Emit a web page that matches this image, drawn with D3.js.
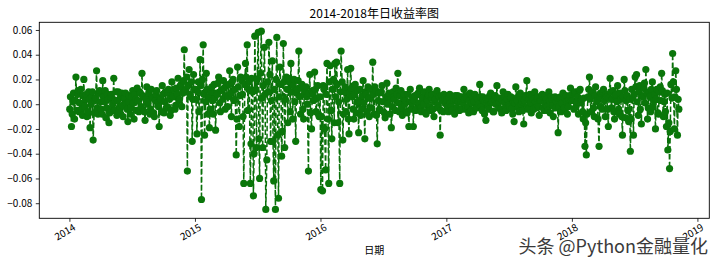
<!DOCTYPE html>
<html>
<head>
<meta charset="utf-8">
<script src="https://cdn.jsdelivr.net/npm/d3@7"></script>
<style>
  body { margin: 0; background: #fff; }
  svg text { font-family: "Noto Sans CJK SC", "DejaVu Sans", sans-serif; }
</style>
</head>
<body>
<div id="area"></div>
<script>
var years = [2014, 2015, 2016, 2017, 2018];
var samplesPerYear = 160;

var r2014 = [-0.004, 0.006, -0.018, -0.008, 0.002, 0.009, -0.012, 0.003, 0.022, -0.005,
  0.008, 0.011, -0.006, 0.001, 0.012, -0.004, -0.009, 0.007, 0.020, -0.002,
  0.004, 0.008, -0.010, -0.006, 0.010, 0.004, -0.019, 0.000, 0.006, 0.010,
  -0.029, -0.007, 0.003, 0.005, 0.027, -0.003, -0.008, 0.009, 0.011, 0.002,
  -0.004, -0.008, 0.019, 0.006, 0.002, 0.011, -0.011, -0.003, 0.008, 0.004,
  -0.015, -0.007, 0.006, 0.008, -0.005, 0.000, 0.021, -0.005, 0.003, 0.010,
  -0.009, 0.003, 0.010, -0.006, -0.002, 0.007, 0.009, -0.001, -0.010, 0.005,
  0.005, 0.009, 0.001, -0.004, -0.014, 0.002, 0.007, -0.008, -0.003, 0.006,
  0.011, 0.001, -0.012, 0.008, 0.004, -0.005, 0.013, 0.003, -0.006, 0.010,
  0.009, -0.002, 0.025, 0.007, 0.006, -0.006, -0.013, 0.004, 0.014, 0.000,
  0.002, 0.009, -0.008, -0.004, 0.012, 0.006, 0.005, -0.007, -0.010, 0.003,
  0.008, 0.011, 0.001, -0.002, -0.018, 0.005, 0.004, -0.006, 0.015, 0.008,
  -0.007, 0.002, 0.010, -0.003, -0.002, 0.009, 0.012, 0.004, -0.009, -0.005,
  0.018, 0.007, 0.006, 0.012, -0.004, -0.001, 0.013, 0.008, 0.021, 0.003,
  0.004, 0.014, 0.016, -0.002, 0.009, 0.019, 0.044, 0.010, 0.012, 0.022,
  -0.054, 0.015, 0.028, 0.008, 0.006, 0.018, -0.030, 0.004, 0.024, 0.012];

var r2015 = [0.012, 0.004, -0.024, 0.010, 0.018, -0.006, 0.036, 0.015, -0.077, 0.020,
  0.048, 0.008, -0.025, 0.002, 0.025, 0.012, -0.008, 0.006, -0.019, -0.004,
  0.010, 0.014, 0.003, -0.008, 0.016, 0.005, -0.021, 0.009, 0.008, 0.017,
  0.022, 0.001, -0.006, 0.011, 0.012, 0.004, 0.019, 0.013, -0.004, 0.007,
  0.015, -0.002, 0.006, 0.016, 0.027, 0.009, -0.010, 0.018, 0.020, 0.003,
  0.004, 0.012, -0.041, -0.012, 0.030, 0.014, -0.018, 0.007, 0.022, 0.019,
  0.008, -0.010, -0.064, 0.016, 0.033, 0.022, 0.048, -0.005, 0.012, 0.018,
  -0.064, -0.032, 0.021, 0.010, -0.074, -0.040, 0.055, 0.012, -0.035, 0.020,
  0.058, -0.028, -0.060, 0.025, 0.059, 0.005, -0.035, 0.015, 0.046, 0.008,
  -0.085, -0.045, 0.018, 0.010, 0.050, 0.024, -0.030, 0.003, 0.035, -0.030,
  -0.062, 0.012, -0.085, 0.020, 0.054, -0.025, -0.076, 0.006, 0.030, 0.016,
  -0.042, -0.022, 0.049, 0.018, -0.035, 0.004, 0.022, 0.012, -0.015, 0.021,
  0.018, -0.006, 0.033, 0.010, -0.012, 0.015, 0.020, 0.002, -0.030, 0.009,
  0.012, 0.019, 0.043, 0.006, -0.008, 0.013, 0.016, -0.004, -0.012, 0.008,
  0.010, 0.014, 0.006, 0.000, -0.054, 0.009, 0.024, -0.007, -0.020, 0.011,
  0.008, 0.003, 0.026, 0.012, -0.006, 0.005, 0.015, -0.008, -0.010, 0.006];

var r2016 = [-0.069, -0.010, -0.070, 0.015, 0.012, -0.020, -0.053, 0.008, 0.033, -0.012,
  -0.064, 0.018, 0.031, -0.005, -0.028, 0.012, 0.020, -0.015, 0.033, 0.006,
  0.034, 0.016, -0.015, 0.002, -0.064, 0.010, 0.043, 0.018, -0.029, -0.008,
  0.010, 0.014, -0.006, 0.004, 0.028, -0.012, -0.024, 0.009, 0.029, 0.013,
  0.006, -0.004, -0.012, 0.008, 0.016, -0.007, 0.002, 0.011, -0.023, 0.003,
  0.012, -0.009, -0.004, 0.007, 0.019, 0.001, -0.028, 0.010, 0.008, -0.006,
  0.014, 0.005, -0.010, 0.012, 0.005, -0.003, 0.034, 0.008, -0.008, 0.014,
  0.011, -0.009, -0.032, 0.003, 0.009, -0.004, -0.005, 0.010, 0.015, 0.002,
  0.002, -0.007, -0.011, 0.006, 0.017, 0.000, 0.006, 0.009, -0.008, 0.004,
  -0.019, -0.002, 0.010, 0.006, 0.004, -0.005, 0.013, 0.008, 0.025, 0.001,
  -0.006, 0.007, 0.011, -0.003, -0.009, 0.005, 0.008, 0.000, 0.003, -0.006,
  -0.007, 0.008, -0.018, 0.002, 0.012, -0.004, 0.001, 0.006, -0.018, 0.003,
  0.007, -0.005, -0.004, 0.008, 0.009, 0.001, 0.013, -0.003, -0.006, 0.006,
  0.005, 0.000, 0.010, -0.006, -0.008, 0.004, 0.003, 0.007, 0.012, -0.002,
  -0.005, 0.005, 0.008, -0.004, -0.010, 0.002, 0.004, 0.009, 0.011, -0.001,
  -0.003, 0.006, -0.025, -0.005, 0.007, 0.003, -0.006, 0.008, 0.005, 0.001];

var r2017 = [0.004, -0.002, -0.006, 0.005, 0.008, 0.001, -0.002, -0.005, 0.006, 0.003,
  -0.008, 0.007, 0.003, -0.003, 0.007, 0.002, -0.005, 0.006, 0.002, -0.004,
  0.006, 0.001, 0.012, 0.004, -0.004, 0.007, 0.005, -0.002, -0.007, 0.003,
  0.009, -0.005, 0.001, 0.006, -0.006, 0.002, 0.008, -0.003, -0.003, 0.005,
  0.004, 0.000, 0.016, 0.006, -0.002, -0.005, 0.006, 0.003, -0.008, 0.002,
  -0.013, 0.004, 0.005, -0.002, -0.004, 0.007, 0.009, 0.001, 0.002, -0.006,
  -0.006, 0.004, 0.007, 0.000, 0.015, 0.005, -0.003, 0.002, 0.005, -0.004,
  -0.007, 0.003, 0.010, 0.006, 0.001, -0.003, -0.005, 0.004, 0.008, -0.001,
  -0.002, 0.005, 0.006, -0.004, -0.008, 0.002, -0.014, 0.001, 0.014, 0.005,
  0.003, -0.003, -0.006, 0.006, 0.009, 0.000, 0.002, -0.005, -0.016, 0.003,
  0.007, 0.006, 0.019, -0.002, -0.004, 0.004, 0.008, 0.001, -0.007, 0.006,
  0.004, -0.004, 0.010, 0.002, -0.003, 0.005, 0.006, -0.002, -0.009, 0.003,
  0.003, 0.007, 0.008, -0.003, -0.005, 0.001, 0.007, 0.004, -0.002, -0.005,
  0.010, 0.003, -0.007, 0.006, 0.004, -0.001, -0.010, 0.004, 0.006, -0.003,
  0.002, 0.005, -0.023, -0.002, 0.005, 0.006, -0.006, 0.001, 0.009, -0.004,
  -0.003, 0.005, 0.007, 0.002, -0.008, -0.002, 0.004, 0.007, 0.013, 0.003];

var r2018 = [0.008, 0.003, -0.004, 0.009, 0.010, -0.002, 0.002, 0.006, -0.008, 0.011,
  0.012, 0.001, 0.004, -0.006, -0.012, 0.005, -0.034, -0.015, -0.041, -0.008,
  0.006, 0.012, 0.022, 0.004, -0.006, 0.009, 0.010, -0.003, -0.010, 0.007,
  0.014, 0.002, 0.003, -0.012, -0.034, 0.006, 0.009, -0.002, -0.004, 0.010,
  0.012, 0.003, -0.010, 0.008, 0.006, -0.004, -0.018, 0.005, 0.021, 0.010,
  -0.003, 0.004, 0.011, -0.006, -0.012, 0.007, 0.008, 0.002, 0.015, -0.004,
  -0.008, 0.009, 0.004, -0.010, -0.025, 0.006, 0.020, 0.011, -0.011, 0.003,
  0.007, -0.005, -0.014, 0.004, -0.038, -0.012, 0.012, 0.005, -0.025, 0.008,
  0.022, 0.014, 0.024, 0.002, -0.009, 0.010, 0.015, -0.004, -0.016, 0.007,
  0.006, 0.013, 0.017, 0.001, 0.028, 0.009, -0.012, -0.003, 0.010, 0.006,
  -0.006, 0.012, 0.018, -0.002, 0.003, 0.008, -0.020, 0.004, 0.012, -0.007,
  -0.008, 0.010, 0.014, 0.003, 0.025, 0.011, -0.010, 0.002, 0.008, -0.006,
  -0.018, 0.009, -0.037, -0.015, -0.052, -0.022, 0.016, 0.005, 0.041, 0.018,
  -0.020, 0.006, 0.027, 0.012, -0.025, 0.004, -0.004];

var yTicks = [-0.08, -0.06, -0.04, -0.02, 0.00, 0.02, 0.04, 0.06];
var xTickYears = [2014, 2015, 2016, 2017, 2018, 2019];

var returnsByYear = [r2014, r2015, r2016, r2017, r2018];
var data = [];
years.forEach(function (yr, k) {
  var start = new Date(yr, 0, 2);
  returnsByYear[k].forEach(function (v, i) {
    data.push({ date: d3.timeDay.offset(start, Math.round(i * 365 / samplesPerYear)), value: v });
  });
});

var W = 719, H = 262;
var margin = { top: 22.3, right: 9.7, bottom: 43.7, left: 39.3 },
  width = W - margin.left - margin.right,
  height = H - margin.top - margin.bottom;

var svG = d3.select("#area")
  .append("svg")
  .attr("width", W)
  .attr("height", H);

var g = svG.append("g")
  .attr("transform", "translate(" + margin.left + "," + margin.top + ")");

// matplotlib style 5% margins around data
var xExt = d3.extent(data, function (d) { return +d.date; });
var xPad = (xExt[1] - xExt[0]) * 0.05;
var xScale = d3.scaleTime()
  .domain([new Date(xExt[0] - xPad), new Date(xExt[1] + xPad)])
  .range([0, width]);

var yExt = d3.extent(data, function (d) { return d.value; });
var yPad = (yExt[1] - yExt[0]) * 0.05;
var yScale = d3.scaleLinear()
  .domain([yExt[0] - yPad, yExt[1] + yPad])
  .range([height, 0]);

var line = d3.line()
  .x(function (d) { return xScale(d.date); })
  .y(function (d) { return yScale(d.value); });

g.append("path")
  .datum(data)
  .attr("d", line)
  .attr("fill", "none")
  .attr("stroke", "#0a700a")
  .attr("stroke-width", 1.5)
  .attr("stroke-dasharray", "5.5,2.4");

g.selectAll("circle.pt")
  .data(data)
  .enter()
  .append("circle")
  .attr("class", "pt")
  .attr("cx", function (d) { return xScale(d.date); })
  .attr("cy", function (d) { return yScale(d.value); })
  .attr("r", 3.6)
  .attr("fill", "#0a760a");

// axes
var fmt = function (v) { return d3.format(".2f")(v).replace("-", "\u2212"); };
var yAxis = g.append("g")
  .call(d3.axisLeft(yScale).tickValues(yTicks).tickFormat(fmt).tickSize(3.5).tickPadding(3.5));
yAxis.selectAll("text").style("font-size", "10px").attr("fill", "#000");

var xAxis = g.append("g")
  .attr("transform", "translate(0," + height + ")")
  .call(d3.axisBottom(xScale)
    .tickValues(xTickYears.map(function (y) { return new Date(y, 0, 1); }))
    .tickFormat(d3.timeFormat("%Y")).tickSize(3.5));
xAxis.selectAll("text")
  .style("font-size", "10px")
  .attr("fill", "#000")
  .attr("text-anchor", "end")
  .attr("dy", "0.7em")
  .attr("y", 6)
  .attr("x", 0)
  .attr("transform", "rotate(-30)");

g.selectAll(".domain").remove();
g.selectAll(".tick line").attr("stroke", "#000").attr("stroke-width", 0.8);

g.append("rect")
  .attr("width", width)
  .attr("height", height)
  .attr("fill", "none")
  .attr("stroke", "#000")
  .attr("stroke-width", 0.9);

svG.append("text")
  .attr("x", margin.left + width / 2)
  .attr("y", 17.5)
  .attr("text-anchor", "middle")
  .style("font-size", "12px")
  .text("2014-2018年日收益率图");

svG.append("text")
  .attr("x", margin.left + width / 2)
  .attr("y", 254)
  .attr("text-anchor", "middle")
  .style("font-size", "10px")
  .text("日期");

svG.append("text")
  .attr("x", 708)
  .attr("y", 253)
  .attr("text-anchor", "end")
  .style("font-size", "18px")
  .attr("fill", "#3a3a3a")
  .attr("stroke", "#fff")
  .attr("stroke-width", 0.6)
  .attr("paint-order", "stroke")
  .text("头条 @Python金融量化");
</script>
</body>
</html>
